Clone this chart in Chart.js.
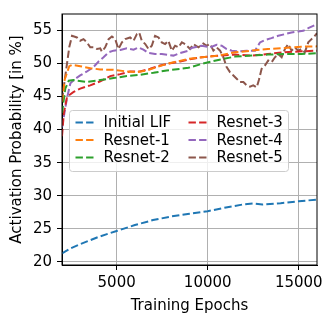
<!DOCTYPE html>
<html>
<head>
<meta charset="utf-8">
<script src="https://cdn.jsdelivr.net/npm/chart.js@4.4.0/dist/chart.umd.min.js"></script>
<style>
  html, body { margin: 0; padding: 0; background: #fff; }
  #wrap { width: 335px; height: 323px; }
</style>
</head>
<body>
<div id="wrap"><canvas id="chart" width="335" height="323"></canvas></div>
<script>
// tick labels
const xTicks = [5000, 10000, 15000];
const yTicks = [20, 25, 30, 35, 40, 45, 50, 55];

// series
const initLifEpochs = [2000, 2500, 3000, 3500, 4000, 5000, 6000, 7000, 8000, 9000, 10000, 11000, 12000, 12500, 13000, 14000, 15000, 16000];
const initLifVals = [21.25, 22.05, 22.65, 23.2, 23.75, 24.65, 25.55, 26.3, 26.85, 27.25, 27.65, 28.2, 28.7, 28.8, 28.65, 28.85, 29.15, 29.4];

const resnet1Epochs = [2000, 2150, 2400, 2550, 3000, 3550, 4100, 4830, 5560, 6110, 6655, 7200, 7750, 8300, 8940, 9700, 10580, 11500, 12400, 13300, 14200, 15150, 16000];
const resnet1Vals = [44.2, 47.6, 49.6, 49.8, 49.6, 49.3, 49.1, 49.05, 48.8, 48.7, 48.95, 49.45, 49.95, 50.3, 50.7, 50.95, 51.2, 51.7, 51.95, 52.2, 52.35, 52.55, 52.6];

const resnet2Epochs = [2000, 2180, 2370, 2640, 3370, 4100, 4830, 5560, 6290, 7020, 7750, 8480, 8940, 9670, 10580, 11500, 12400, 13300, 14200, 15150, 16000];
const resnet2Vals = [42.5, 46.2, 47.4, 47.5, 47.2, 47.5, 47.8, 48.1, 48.3, 48.6, 48.95, 49.2, 49.35, 49.95, 50.55, 51.05, 51.2, 51.35, 51.45, 51.45, 51.55];

const resnet3Epochs = [2000, 2100, 2280, 2640, 3000, 3550, 4100, 4650, 5200, 5740, 6290, 6840, 7390, 7940, 8480, 8940, 9670, 10580, 11500, 12400, 13300, 14200, 15150, 16000];
const resnet3Vals = [39.0, 42.5, 45.0, 45.7, 46.2, 46.7, 47.3, 48.1, 48.4, 48.8, 48.8, 49.2, 49.7, 50.05, 50.3, 50.6, 50.95, 51.2, 51.35, 51.2, 51.45, 51.7, 51.85, 51.95];

const resnet4Epochs = [2000, 2270, 2460, 2730, 3000, 3370, 3740, 4010, 4280, 4560, 4830, 5200, 5560, 5930, 6200, 6470, 6750, 7110, 7480, 7840, 8120, 8490, 8940, 9120, 9670, 10130, 10490, 10770, 11040, 11320, 11680, 12140, 12600, 12870, 13140, 13500, 13870, 14240, 14600, 14970, 15240, 15520, 15790, 16000];
const resnet4Vals = [40.3, 44.7, 47.0, 47.7, 48.2, 48.8, 49.5, 50.3, 50.95, 51.7, 51.95, 52.05, 52.3, 52.1, 52.45, 52.1, 51.6, 51.45, 51.45, 51.3, 51.2, 51.6, 51.95, 52.35, 52.7, 52.45, 52.85, 52.7, 52.2, 51.95, 51.85, 51.95, 51.95, 53.2, 53.55, 53.85, 54.2, 54.45, 54.7, 54.85, 54.95, 55.35, 55.7, 55.9];

const resnet5Epochs = [2000, 2200, 2400, 2550, 2820, 3000, 3180, 3370, 3550, 3740, 3920, 4100, 4190, 4370, 4560, 4740, 4920, 5100, 5290, 5470, 5740, 5930, 6110, 6240, 6380, 6570, 6750, 6930, 7110, 7300, 7480, 7660, 7840, 8030, 8210, 8390, 8580, 8760, 9030, 9210, 9490, 9760, 9940, 10130, 10310, 10490, 10680, 10860, 11040, 11220, 11410, 11590, 11770, 11960, 12140, 12320, 12500, 12690, 12810, 12960, 13140, 13320, 13510, 13690, 13870, 14060, 14240, 14420, 14600, 14790, 14970, 15150, 15330, 15520, 15700, 15880, 16000];
const resnet5Vals = [44.5, 48.5, 52.5, 54.2, 53.95, 53.45, 53.7, 53.2, 52.45, 52.45, 52.2, 52.3, 51.8, 52.45, 53.7, 54.1, 53.7, 52.2, 53.2, 53.7, 53.95, 53.45, 54.45, 54.7, 53.45, 52.95, 52.2, 52.7, 54.2, 53.95, 53.2, 52.95, 53.45, 51.95, 52.7, 52.45, 53.2, 52.95, 52.2, 52.95, 52.45, 53.05, 52.7, 52.95, 51.95, 52.45, 51.95, 50.95, 49.45, 48.7, 48.2, 47.7, 47.2, 47.2, 46.7, 46.5, 46.7, 46.4, 47.5, 49.2, 49.7, 50.45, 50.2, 50.95, 51.45, 50.95, 52.2, 52.95, 51.95, 52.45, 51.95, 52.2, 51.7, 53.2, 53.7, 54.2, 54.6];

const seriesNames = ['Initial LIF', 'Resnet-1', 'Resnet-2', 'Resnet-3', 'Resnet-4', 'Resnet-5'];
const seriesColors = ['#1f77b4', '#ff7f0e', '#2ca02c', '#d62728', '#9467bd', '#8c564b'];
const seriesData = [
    [initLifEpochs, initLifVals],
    [resnet1Epochs, resnet1Vals],
    [resnet2Epochs, resnet2Vals],
    [resnet3Epochs, resnet3Vals],
    [resnet4Epochs, resnet4Vals],
    [resnet5Epochs, resnet5Vals]
];

const FONT = 'DejaVu Sans';
const DASH = [7.4, 3.2];

const datasets = seriesData.map(([xs, ys], i) => ({
    label: seriesNames[i],
    data: xs.map((x, j) => ({ x: x, y: ys[j] })),
    borderColor: seriesColors[i],
    borderWidth: 2,
    borderDash: DASH,
    pointRadius: 0,
    tension: 0,
    fill: false
}));

// frame + legend in the top-left of the plot (two columns like matplotlib ncol=2)
const framePlugin = {
    id: 'frameAndLegend',
    afterDatasetsDraw(chart) {
        const { ctx, chartArea: a } = chart;
        ctx.save();
        ctx.strokeStyle = '#000';
        ctx.lineWidth = 1;
        ctx.setLineDash([]);
        ctx.strokeRect(a.left, a.top, a.right - a.left, a.bottom - a.top);

        const bx = a.left + 7.5, by = a.top + 96.5, bw = 219, bh = 61;
        ctx.beginPath();
        ctx.roundRect(bx, by, bw, bh, 3);
        ctx.fillStyle = 'rgba(255,255,255,0.8)';
        ctx.fill();
        ctx.strokeStyle = '#cccccc';
        ctx.stroke();

        ctx.font = '15px "' + FONT + '"';
        ctx.textBaseline = 'middle';
        ctx.textAlign = 'left';
        seriesNames.forEach((name, i) => {
            const col = Math.floor(i / 3), row = i % 3;
            const hx = bx + 6 + col * 113;
            const ty = by + 12 + row * 17.5;
            ctx.beginPath();
            ctx.setLineDash(DASH);
            ctx.strokeStyle = seriesColors[i];
            ctx.lineWidth = 2;
            ctx.moveTo(hx, ty);
            ctx.lineTo(hx + 18, ty);
            ctx.stroke();
            ctx.setLineDash([]);
            ctx.fillStyle = '#000';
            ctx.fillText(name, hx + 28, ty + 1);
        });
        ctx.restore();
    }
};

new Chart(document.getElementById('chart'), {
    type: 'line',
    data: { datasets: datasets },
    options: {
        responsive: false,
        animation: false,
        devicePixelRatio: 1,
        layout: { padding: { top: 11, right: 18, left: 0, bottom: 0 } },
        plugins: { legend: { display: false }, tooltip: { enabled: false } },
        scales: {
            x: {
                type: 'linear',
                min: 2000,
                max: 16000,
                afterBuildTicks: s => { s.ticks = xTicks.map(v => ({ value: v })); },
                afterFit: s => { s.height = 58; },
                ticks: { color: '#000', font: { family: FONT, size: 15 }, padding: 4, callback: v => String(v) },
                grid: { color: '#b0b0b0', lineWidth: 1, tickLength: 5, tickColor: '#000' },
                border: { color: '#000', width: 1 },
                title: { display: true, text: 'Training Epochs', color: '#000', font: { family: FONT, size: 15 }, padding: { top: 0, bottom: 8 } }
            },
            y: {
                min: 19.5,
                max: 57.5,
                afterBuildTicks: s => { s.ticks = yTicks.map(v => ({ value: v })); },
                afterFit: s => { s.width = 62; },
                ticks: { color: '#000', font: { family: FONT, size: 15 }, padding: 5, callback: v => String(v) },
                grid: { color: '#b0b0b0', lineWidth: 1, tickLength: 5, tickColor: '#000' },
                border: { color: '#000', width: 1 },
                title: { display: true, text: 'Activation Probability [in %]', color: '#000', font: { family: FONT, size: 15 }, padding: { top: 8, bottom: 0 } }
            }
        }
    },
    plugins: [framePlugin]
});
</script>
</body>
</html>
